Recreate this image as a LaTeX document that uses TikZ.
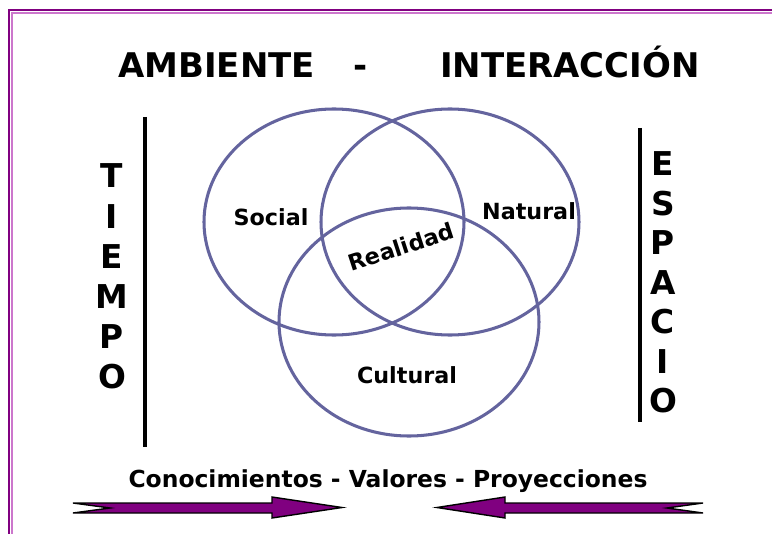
\documentclass[tikz,border=0pt]{standalone}
\usepackage{fontspec}
\setmainfont{DejaVu Sans}
\usetikzlibrary{calc}
\definecolor{marco}{RGB}{128,0,128}
\definecolor{marcoclaro}{RGB}{204,119,204}
\definecolor{aro}{RGB}{100,100,158}
\definecolor{flecha}{RGB}{128,0,128}

\begin{document}
\begin{tikzpicture}[x=0.03cm, y=-0.03cm,
    titulo/.style={font=\bfseries\fontsize{29}{34}\selectfont, inner sep=0pt},
    letra/.style={font=\bfseries\fontsize{28}{32}\selectfont, inner sep=0pt},
    etiqueta/.style={font=\bfseries\fontsize{19}{22}\selectfont, inner sep=0pt},
    conjunto/.style={draw=aro, line width=2.6pt},
    barra/.style={line width=3.4pt, black},
    flechaancha/.style={draw=black, line width=1.2pt, fill=flecha, line join=miter}]
    \useasboundingbox (0,0) rectangle (772,534);

    % marco doble
    \draw[marco, line width=2pt] (9.3,534) -- (9.3,10.3) -- (772,10.3);
    \draw[marcoclaro, line width=2.2pt] (11.9,534) -- (11.9,12.9) -- (772,12.9);

    \node[titulo, anchor=base west] (ambiente) at (118,78) {AMBIENTE};
    \node[titulo, anchor=base] (guion) at (361,78) {-};
    \node[titulo, anchor=base east] (interaccion) at (700,78) {INTERACCIÓN};

    % conjuntos
    \coordinate (S) at (334,222);
    \coordinate (N) at (450,222);
    \coordinate (C) at (409,322);
    \draw[conjunto] (S) ellipse [x radius=130, y radius=113];
    \draw[conjunto] (N) ellipse [x radius=129, y radius=113];
    \draw[conjunto] (C) ellipse [x radius=130, y radius=114];

    \node[etiqueta, anchor=base] (social) at (271,225) {Social};
    \node[etiqueta, anchor=base] (natural) at (529,219) {Natural};
    \node[etiqueta, anchor=base] (cultural) at (407,383) {Cultural};
    \node[etiqueta, rotate=18] (realidad) at (401,247) {Realidad};

    % ejes laterales
    \coordinate (L1) at (145,117);
    \coordinate (L2) at (145,447);
    \coordinate (R1) at (640,128);
    \coordinate (R2) at (640,422);
    \draw[barra] (L1) -- (L2);
    \draw[barra] (R1) -- (R2);

    \foreach \l [count=\i] in {T,I,E,M,P,O}
        \node[letra] (tiempo\i) at (112,{176+40.2*(\i-1)}) {\l};
    \foreach \l [count=\i] in {E,S,P,A,C,I,O}
        \node[letra] (espacio\i) at (663,{164+39.5*(\i-1)}) {\l};

    \node[etiqueta, font=\bfseries\fontsize{20}{24}\selectfont, anchor=base] (valores) at (388,487) {Conocimientos - Valores - Proyecciones};

    % flechas
    \draw[flechaancha] (73,503) -- (272,503) -- (272,497) -- (342,507.5)
        -- (272,518) -- (272,513) -- (73,513) -- (110,508) -- cycle;
    \draw[flechaancha] (703,503) -- (505,503) -- (505,497) -- (437,507.5)
        -- (505,518) -- (505,513) -- (703,513) -- (667,508) -- cycle;
\end{tikzpicture}
\end{document}
